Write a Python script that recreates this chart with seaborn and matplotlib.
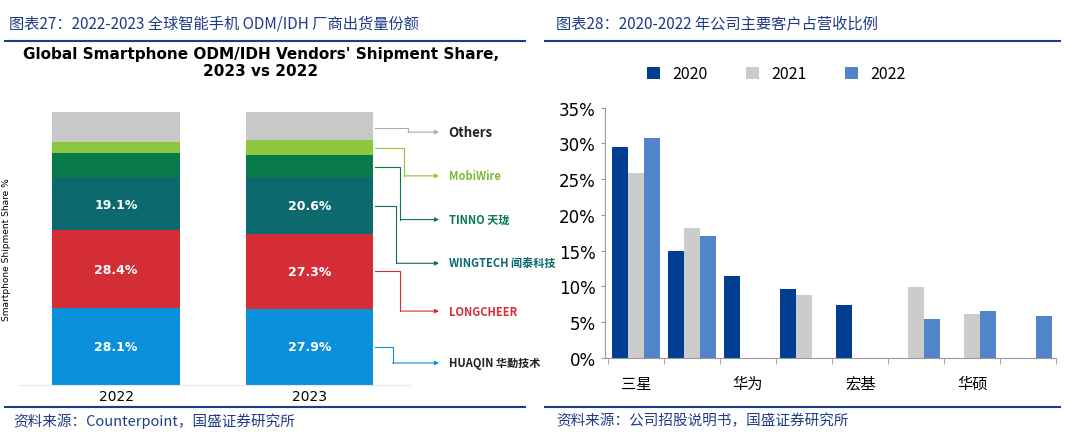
import matplotlib.pyplot as plt
import seaborn as sns
import pandas as pd
import numpy as np

plt.switch_backend('Agg')
plt.rcParams['font.family'] = ['Noto Sans CJK SC', 'DejaVu Sans']

# left panel: ODM/IDH vendor share (stacked, bottom -> top)
years = ['2022', '2023']
vendors = ['HUAQIN 华勤技术', 'LONGCHEER', 'WINGTECH 闻泰科技', 'TINNO 天珑', 'MobiWire', 'Others']
share_2022 = [28.1, 28.4, 19.1, 9.4, 4.0, 11.0]
share_2023 = [27.9, 27.3, 20.6, 8.2, 5.7, 10.3]
vendor_colors = ['#0A8FDB', '#D42D36', '#0C6A6E', '#087A4C', '#8DC63F', '#C8C8C8']

# right panel: customer revenue share
customers = ['三星', '', '华为', '', '宏基', '', '华硕', '']
rev_2020 = [29.5, 15.0, 11.5, 9.6, 7.4, 0, 0, 0]
rev_2021 = [25.8, 18.2, 0, 8.8, 0, 9.9, 6.1, 0]
rev_2022 = [30.8, 17.1, 0, 0, 0, 5.4, 6.5, 5.8]

HEAD = '#1F3C88'
fig = plt.figure(figsize=(10.65, 4.35), dpi=100)

# headers / footers
fig.text(0.008, 0.945, '图表27：2022-2023 全球智能手机 ODM/IDH 厂商出货量份额', color=HEAD,
         fontsize=11, style='italic', va='center')
fig.text(0.522, 0.945, '图表28：2020-2022 年公司主要客户占营收比例', color=HEAD,
         fontsize=11, style='italic', va='center')
fig.text(0.012, 0.032, '资料来源：Counterpoint，国盛证券研究所', color=HEAD, fontsize=10.5,
         style='italic', va='center')
fig.text(0.522, 0.032, '资料来源：公司招股说明书，国盛证券研究所', color=HEAD, fontsize=10.5,
         style='italic', va='center')
for x0, x1 in [(0.005, 0.493), (0.512, 0.995)]:
    fig.add_artist(plt.Line2D([x0, x1], [0.903, 0.903], color=HEAD, lw=1.5))
    fig.add_artist(plt.Line2D([x0, x1], [0.062, 0.062], color=HEAD, lw=1.5))

# ---- left stacked chart ----
axl = fig.add_axes([0.0183, 0.113, 0.3667, 0.628])
bottoms = np.zeros(2)
for i, v in enumerate(vendors):
    vals = np.array([share_2022[i], share_2023[i]])
    axl.bar([0, 1], vals, bottom=bottoms, width=0.66, color=vendor_colors[i], lw=0)
    if i < 3:
        for j in range(2):
            axl.text(j, bottoms[j] + vals[j] / 2, f'{vals[j]:.1f}%', color='white',
                     ha='center', va='center', fontsize=9, fontweight='bold',
                     family='DejaVu Sans')
    bottoms += vals
axl.set_xlim(-0.5, 1.52)
axl.set_ylim(0, 100)
axl.set_xticks([0, 1])
axl.set_xticklabels(years, fontsize=10, family='DejaVu Sans')
axl.set_yticks([])
for s in ['top', 'right', 'left']:
    axl.spines[s].set_visible(False)
axl.spines['bottom'].set_color('#E6E6E6')
axl.tick_params(axis='x', length=0, pad=3)
axl.set_ylabel('Smartphone Shipment Share %', fontsize=6.5, family='DejaVu Sans', labelpad=6)
fig.text(0.245, 0.855, "Global Smartphone ODM/IDH Vendors' Shipment Share,\n2023 vs 2022",
         ha='center', va='center', fontsize=11, fontweight='bold', family='DejaVu Sans')

# elbow connectors from 2023 bar to vendor labels
label_y = [8.0, 27.0, 44.5, 60.5, 76.5, 92.5]
cum = np.cumsum([0] + share_2023)
elbow_x = [1.43, 1.47, 1.45, 1.47, 1.49, 1.51]
for i, v in enumerate(vendors):
    mid = cum[i] + share_2023[i] / 2 if i < 5 else 94
    c = vendor_colors[i] if i != 5 else '#AAAAAA'
    axl.plot([1.34, elbow_x[i], elbow_x[i]], [mid, mid, label_y[i]], color=c, lw=0.8,
             clip_on=False)
    axl.annotate('', xy=(1.67, label_y[i]), xytext=(elbow_x[i], label_y[i]),
                 annotation_clip=False,
                 arrowprops=dict(arrowstyle='-|>', color=c, lw=0.8, mutation_scale=6,
                                 shrinkA=0, shrinkB=0))
    name_color = '#222222' if i in (0, 5) else vendor_colors[i]
    if i == 4:
        name_color = '#7DBA3A'
    axl.text(1.72, label_y[i], v, fontsize=8 if i != 5 else 9.5, fontweight='bold',
             color=name_color, va='center', ha='left', clip_on=False)

# ---- right grouped chart ----
axr = fig.add_axes([0.568, 0.175, 0.424, 0.575])
df = pd.DataFrame({
    'pos': list(range(8)) * 3,
    'year': ['2020'] * 8 + ['2021'] * 8 + ['2022'] * 8,
    'val': rev_2020 + rev_2021 + rev_2022,
})
sns.barplot(data=df, x='pos', y='val', hue='year', ax=axr, width=0.85,
            palette=['#003E92', '#CCCCCC', '#5085C7'], saturation=1, legend=True)
axr.set_ylim(0, 35)
axr.set_yticks(range(0, 36, 5))
axr.set_yticklabels([f'{t}%' for t in range(0, 36, 5)], fontsize=12, family='DejaVu Sans')
axr.set_xticks(np.arange(-0.5, 8, 1), minor=True)
axr.set_xticks(range(8))
axr.set_xticklabels(customers, fontsize=11)
axr.tick_params(axis='x', which='major', length=0, pad=12)
axr.tick_params(axis='x', which='minor', length=4, color='#999999')
axr.tick_params(axis='y', length=3, color='#999999')
axr.set_xlim(-0.55, 7.5)
axr.set_xlabel('')
axr.set_ylabel('')
for s in ['top', 'right']:
    axr.spines[s].set_visible(False)
for s in ['left', 'bottom']:
    axr.spines[s].set_color('#999999')
axr.legend(loc='center', bbox_to_anchor=(0.38, 1.135), ncol=3, frameon=False,
           fontsize=11.5, handlelength=0.8, handleheight=0.8, columnspacing=2.4)

fig.savefig('out.png', dpi=100)
